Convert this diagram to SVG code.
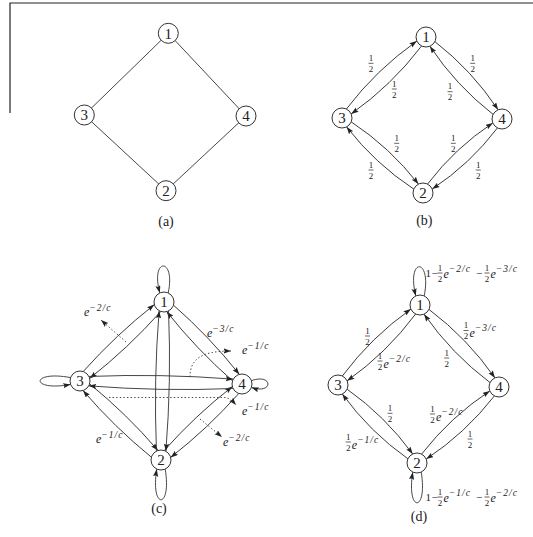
<svg xmlns="http://www.w3.org/2000/svg" width="533" height="537" viewBox="0 0 533 537">
<defs>
<marker id="ah" markerUnits="userSpaceOnUse" markerWidth="9" markerHeight="7" refX="7.5" refY="2.6" orient="auto"><path d="M0,0 L7.5,2.6 L0,5.2 L1.3,2.6 Z" fill="#222"/></marker>
<style>
.e{fill:none;stroke:#333;stroke-width:0.9}
.a{marker-end:url(#ah)}
.d{fill:none;stroke:#333;stroke-width:0.9;stroke-dasharray:1.4 2.2;marker-end:url(#ah)}
.n circle{fill:#fff;stroke:#333;stroke-width:1}
.n text{font-family:"Liberation Serif",serif;font-size:15px;text-anchor:middle;fill:#222}
.cap{font-family:"Liberation Serif",serif;font-size:14px;text-anchor:middle;fill:#222}
.fr{font-family:"Liberation Serif",serif;font-size:9px;text-anchor:middle;fill:#222}
.bar{stroke:#222;stroke-width:0.7}
.ex{font-family:"Liberation Serif",serif;font-style:italic;font-size:12px;fill:#222}
.sp{font-size:9.5px;letter-spacing:1px}
.rm{font-family:"Liberation Serif",serif;font-size:11px;fill:#222}
.frame{fill:none;stroke:#222;stroke-width:1.2}
</style>
</defs>
<rect width="533" height="537" fill="#fff"/>
<path class="frame" d="M10,113 L10,3 L533,3"/>

<g id="connectors">
 <g id="conn-a" class="e">
  <line x1="168.3" y1="33.3" x2="84.3" y2="115"/>
  <line x1="168.3" y1="33.3" x2="246" y2="116"/>
  <line x1="84.3" y1="115" x2="166" y2="190.7"/>
  <line x1="246" y1="116" x2="166" y2="190.7"/>
 </g>
 <g id="conn-b" class="e">
  <g transform="translate(342,118) rotate(-43.96)"><path class="a" d="M9.4,-3.4 Q58.35,-11 107.3,-3.4"/><path class="a" d="M107.3,3.4 Q58.35,11 9.4,3.4"/></g>
  <g transform="translate(426,37) rotate(47.17)"><path class="a" d="M9.4,-3.4 Q55.9,-11 102.4,-3.4"/><path class="a" d="M102.4,3.4 Q55.9,11 9.4,3.4"/></g>
  <g transform="translate(423,193) rotate(-137.2)"><path class="a" d="M9.4,-3.4 Q55.2,-11 101,-3.4"/><path class="a" d="M101,3.4 Q55.2,11 9.4,3.4"/></g>
  <g transform="translate(502,119) rotate(136.87)"><path class="a" d="M9.4,-3.4 Q54.1,-11 98.8,-3.4"/><path class="a" d="M98.8,3.4 Q54.1,11 9.4,3.4"/></g>
 </g>
 <g id="conn-c" class="e">
  <g transform="translate(80,381) rotate(-43.24)"><path class="a" d="M8.8,-4.7 Q57.65,-9 106.5,-4.7"/><path class="a" d="M106.5,4.7 Q57.65,9 8.8,4.7"/></g>
  <g transform="translate(164,302) rotate(46.43)"><path class="a" d="M8.8,-4.7 Q56.6,-9 104.4,-4.7"/><path class="a" d="M104.4,4.7 Q56.6,9 8.8,4.7"/></g>
  <g transform="translate(161,460) rotate(-135.72)"><path class="a" d="M8.8,-4.7 Q56.55,-9 104.3,-4.7"/><path class="a" d="M104.3,4.7 Q56.55,9 8.8,4.7"/></g>
  <g transform="translate(242,384) rotate(136.83)"><path class="a" d="M8.8,-4.7 Q55.55,-9 102.3,-4.7"/><path class="a" d="M102.3,4.7 Q55.55,9 8.8,4.7"/></g>
  <g transform="translate(161,460) rotate(-88.91)"><path class="a" d="M8.8,-4.7 Q79,-9 149.2,-4.7"/><path class="a" d="M149.2,4.7 Q79,9 8.8,4.7"/></g>
  <g transform="translate(80,381) rotate(1.06)"><path class="a" d="M8.8,-4.7 Q81,-9 153.2,-4.7"/><path class="a" d="M153.2,4.7 Q81,9 8.8,4.7"/></g>
  <path class="a" d="M168.2,292.9 C176,257 150,257 159.8,292.9"/>
  <path class="a" d="M70.6,377.6 C30,370 30,392 70.6,384.4"/>
  <path class="a" d="M251.4,380.6 C273.5,373 273.5,395 251.4,387.4"/>
  <path class="a" d="M165.2,469.1 C172,510 150,510 156.8,469.1"/>
  <path class="d" d="M126,342 L101,320"/>
  <path class="d" d="M190,377 C190,360 200,351 231,351"/>
  <path class="d" d="M109,397.5 L225,397.5 Q230,398 236,405"/>
  <path class="d" d="M200,419 L222,437"/>
 </g>
 <g id="conn-d" class="e">
  <g transform="translate(338,385) rotate(-44.3)"><path class="a" d="M9.4,-3.4 Q57.3,-11 105.2,-3.4"/><path class="a" d="M105.2,3.4 Q57.3,11 9.4,3.4"/></g>
  <g transform="translate(420,305) rotate(46.07)"><path class="a" d="M9.4,-3.4 Q56.95,-11 104.5,-3.4"/><path class="a" d="M104.5,3.4 Q56.95,11 9.4,3.4"/></g>
  <g transform="translate(417,463) rotate(-135.36)"><path class="a" d="M9.4,-3.4 Q55.5,-11 101.6,-3.4"/><path class="a" d="M101.6,3.4 Q55.5,11 9.4,3.4"/></g>
  <g transform="translate(499,387) rotate(137.17)"><path class="a" d="M9.4,-3.4 Q55.9,-11 102.4,-3.4"/><path class="a" d="M102.4,3.4 Q55.9,11 9.4,3.4"/></g>
  <path class="a" d="M424.2,295.9 C432,257 406,257 415.8,295.9"/>
  <path class="a" d="M421.2,472.1 C428,513 406,513 412.8,472.1"/>
 </g>
</g>

<g id="a1" class="n"><circle cx="168.3" cy="33.3" r="10"/><text x="168.3" y="38.5">1</text></g>
<g id="a3" class="n"><circle cx="84.3" cy="115" r="10"/><text x="84.3" y="120.2">3</text></g>
<g id="a4" class="n"><circle cx="246" cy="116" r="10"/><text x="246" y="121.2">4</text></g>
<g id="a2" class="n"><circle cx="166" cy="190.7" r="10"/><text x="166" y="195.9">2</text></g>

<g id="b1" class="n"><circle cx="426" cy="37" r="10"/><text x="426" y="42.2">1</text></g>
<g id="b3" class="n"><circle cx="342" cy="118" r="10"/><text x="342" y="123.2">3</text></g>
<g id="b4" class="n"><circle cx="502" cy="119" r="10"/><text x="502" y="124.2">4</text></g>
<g id="b2" class="n"><circle cx="423" cy="193" r="10"/><text x="423" y="198.2">2</text></g>

<g id="c1" class="n"><circle cx="164" cy="302" r="10"/><text x="164" y="307.2">1</text></g>
<g id="c3" class="n"><circle cx="80" cy="381" r="10"/><text x="80" y="386.2">3</text></g>
<g id="c4" class="n"><circle cx="242" cy="384" r="10"/><text x="242" y="389.2">4</text></g>
<g id="c2" class="n"><circle cx="161" cy="460" r="10"/><text x="161" y="465.2">2</text></g>

<g id="d1" class="n"><circle cx="420" cy="305" r="10"/><text x="420" y="310.2">1</text></g>
<g id="d3" class="n"><circle cx="338" cy="385" r="10"/><text x="338" y="390.2">3</text></g>
<g id="d4" class="n"><circle cx="499" cy="387" r="10"/><text x="499" y="392.2">4</text></g>
<g id="d2" class="n"><circle cx="417" cy="463" r="10"/><text x="417" y="468.2">2</text></g>

<g id="labels-b">
 <text class="fr" x="371" y="60.8">1</text><line class="bar" x1="368.5" y1="63.3" x2="373.5" y2="63.3"/><text class="fr" x="371" y="71.8">2</text>
 <text class="fr" x="394.3" y="86.5">1</text><line class="bar" x1="391.8" y1="89" x2="396.8" y2="89"/><text class="fr" x="394.3" y="97.5">2</text>
 <text class="fr" x="472.7" y="60.8">1</text><line class="bar" x1="470.2" y1="63.3" x2="475.2" y2="63.3"/><text class="fr" x="472.7" y="71.8">2</text>
 <text class="fr" x="450" y="89.2">1</text><line class="bar" x1="447.5" y1="91.7" x2="452.5" y2="91.7"/><text class="fr" x="450" y="100.2">2</text>
 <text class="fr" x="396.7" y="140.8">1</text><line class="bar" x1="394.2" y1="143.3" x2="399.2" y2="143.3"/><text class="fr" x="396.7" y="151.8">2</text>
 <text class="fr" x="453.3" y="140.8">1</text><line class="bar" x1="450.8" y1="143.3" x2="455.8" y2="143.3"/><text class="fr" x="453.3" y="151.8">2</text>
 <text class="fr" x="371" y="167.5">1</text><line class="bar" x1="368.5" y1="170" x2="373.5" y2="170"/><text class="fr" x="371" y="178.5">2</text>
 <text class="fr" x="478.3" y="167.5">1</text><line class="bar" x1="475.8" y1="170" x2="480.8" y2="170"/><text class="fr" x="478.3" y="178.5">2</text>
</g>

<g id="labels-c">
 <text class="ex" x="84" y="316">e<tspan class="sp" dy="-5">−2/c</tspan></text>
 <text class="ex" x="207" y="337">e<tspan class="sp" dy="-5">−3/c</tspan></text>
 <text class="ex" x="242" y="354">e<tspan class="sp" dy="-5">−1/c</tspan></text>
 <text class="ex" x="242" y="415">e<tspan class="sp" dy="-5">−1/c</tspan></text>
 <text class="ex" x="223" y="446">e<tspan class="sp" dy="-5">−2/c</tspan></text>
 <text class="ex" x="96" y="442.5">e<tspan class="sp" dy="-5">−1/c</tspan></text>
</g>

<g id="labels-d">
 <text class="fr" x="367.5" y="333.5">1</text><line class="bar" x1="365" y1="336" x2="370" y2="336"/><text class="fr" x="367.5" y="344.5">2</text>
 <text class="fr" x="446.7" y="355.5">1</text><line class="bar" x1="444.2" y1="358" x2="449.2" y2="358"/><text class="fr" x="446.7" y="366.5">2</text>
 <text class="fr" x="390" y="410.8">1</text><line class="bar" x1="387.5" y1="413.3" x2="392.5" y2="413.3"/><text class="fr" x="390" y="421.8">2</text>
 <text class="fr" x="470" y="436.5">1</text><line class="bar" x1="467.5" y1="439" x2="472.5" y2="439"/><text class="fr" x="470" y="447.5">2</text>

 <text class="fr" x="380" y="358.5">1</text><line class="bar" x1="377.5" y1="361" x2="382.5" y2="361"/><text class="fr" x="380" y="369.5">2</text>
 <text class="ex" x="383.5" y="367.5">e<tspan class="sp" dy="-6">−2/c</tspan></text>
 <text class="fr" x="466" y="328">1</text><line class="bar" x1="463.5" y1="330.5" x2="468.5" y2="330.5"/><text class="fr" x="466" y="339">2</text>
 <text class="ex" x="469.5" y="337">e<tspan class="sp" dy="-6">−3/c</tspan></text>
 <text class="fr" x="348.3" y="439.5">1</text><line class="bar" x1="345.8" y1="442" x2="350.8" y2="442"/><text class="fr" x="348.3" y="450.5">2</text>
 <text class="ex" x="351.8" y="448.5">e<tspan class="sp" dy="-6">−1/c</tspan></text>
 <text class="fr" x="432.5" y="411.5">1</text><line class="bar" x1="430" y1="414" x2="435" y2="414"/><text class="fr" x="432.5" y="422.5">2</text>
 <text class="ex" x="436" y="420.5">e<tspan class="sp" dy="-6">−2/c</tspan></text>

 <text class="rm" x="425.5" y="277">1</text><text class="rm" x="431.5" y="277">−</text>
 <text class="fr" x="440" y="270.5">1</text><line class="bar" x1="437.5" y1="273" x2="442.5" y2="273"/><text class="fr" x="440" y="281.5">2</text>
 <text class="ex" x="443.5" y="277.5">e<tspan class="sp" dy="-5.5">−2/c</tspan></text>
 <text class="rm" x="476" y="277">−</text>
 <text class="fr" x="487" y="270.5">1</text><line class="bar" x1="484.5" y1="273" x2="489.5" y2="273"/><text class="fr" x="487" y="281.5">2</text>
 <text class="ex" x="490.5" y="277.5">e<tspan class="sp" dy="-5.5">−3/c</tspan></text>

 <text class="rm" x="425.5" y="501">1</text><text class="rm" x="431.5" y="501">−</text>
 <text class="fr" x="440" y="494.5">1</text><line class="bar" x1="437.5" y1="497" x2="442.5" y2="497"/><text class="fr" x="440" y="505.5">2</text>
 <text class="ex" x="443.5" y="501.5">e<tspan class="sp" dy="-5.5">−1/c</tspan></text>
 <text class="rm" x="476" y="501">−</text>
 <text class="fr" x="487" y="494.5">1</text><line class="bar" x1="484.5" y1="497" x2="489.5" y2="497"/><text class="fr" x="487" y="505.5">2</text>
 <text class="ex" x="490.5" y="501.5">e<tspan class="sp" dy="-5.5">−2/c</tspan></text>
</g>

<g id="captions">
 <text class="cap" x="166" y="225.5">(a)</text>
 <text class="cap" x="424.3" y="224.5">(b)</text>
 <text class="cap" x="159" y="513">(c)</text>
 <text class="cap" x="419" y="521">(d)</text>
</g>
</svg>
